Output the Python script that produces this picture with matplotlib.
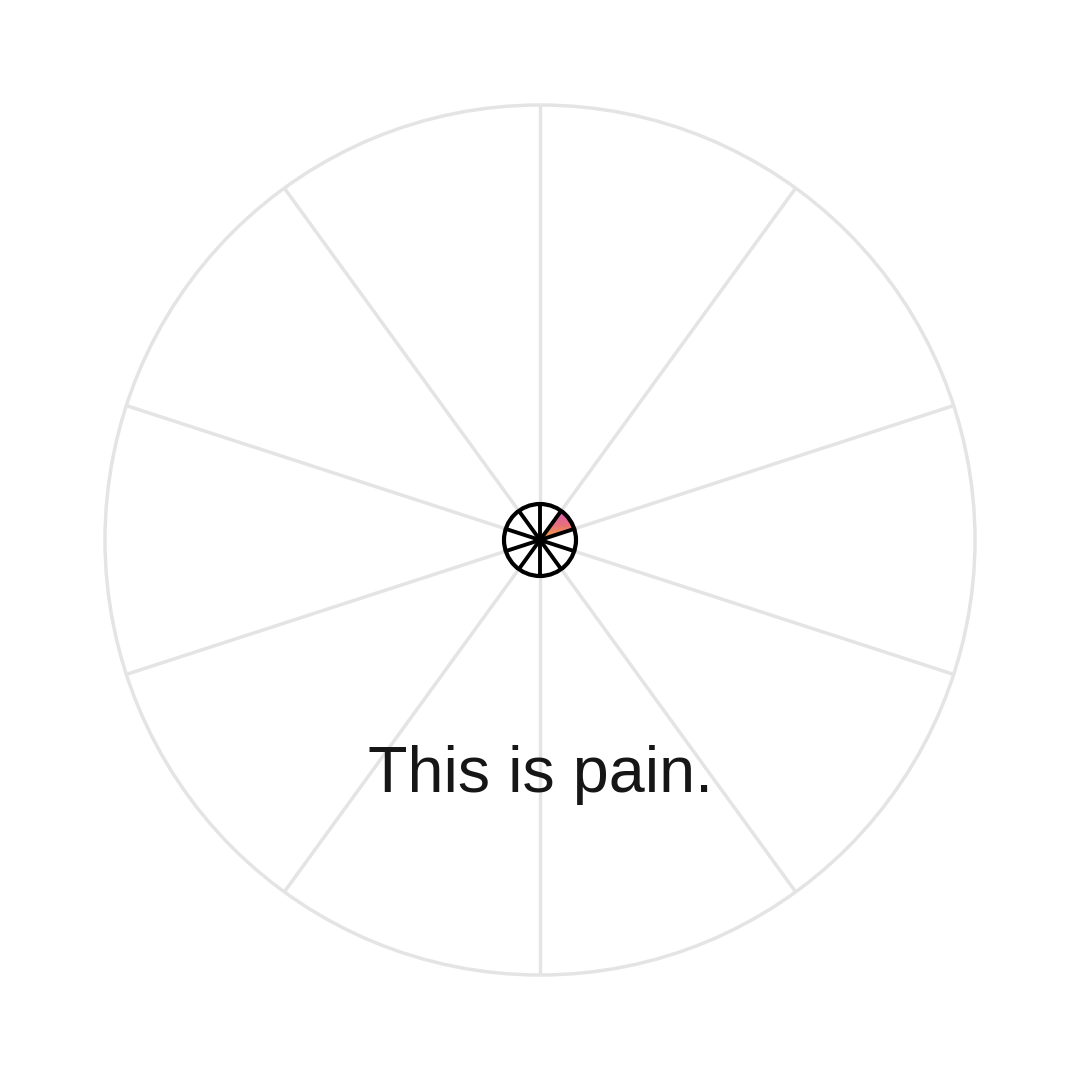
import numpy as np
import matplotlib
matplotlib.use("Agg")
import matplotlib.pyplot as plt
from matplotlib.patches import Circle, Wedge
from matplotlib.colors import LinearSegmentedColormap

# Data
n_segments = 10
segment_values = [0, 1, 0, 0, 0, 0, 0, 0, 0, 0]  # segments counted clockwise from top
title_text = "This is pain."

big_r = 1.0
small_r = 36 / 435

fig = plt.figure(figsize=(10.8, 10.8), dpi=100)
ax = fig.add_axes([0, 0, 1, 1])
lim = 540 / 435
ax.set_xlim(-lim, lim)
ax.set_ylim(-lim, lim)
ax.set_aspect("equal")
ax.axis("off")

grid_col = "#e4e4e4"
angles = 90 - np.arange(n_segments) * 360 / n_segments
# big outer circle and spokes
ax.add_patch(Circle((0, 0), big_r, fill=False, ec=grid_col, lw=2.5, zorder=1))
for a in angles:
    t = np.deg2rad(a)
    ax.plot([0, big_r * np.cos(t)], [0, big_r * np.sin(t)], color=grid_col, lw=2.5, zorder=1,
            solid_capstyle="butt")

# small wheel: white background
ax.add_patch(Circle((0, 0), small_r, fc="white", ec="none", zorder=2))

cmap = LinearSegmentedColormap.from_list("g", ["#f7a83c", "#e8707a", "#d45cbc"])
for i, v in enumerate(segment_values):
    if v > 0:
        th2 = angles[i]
        th1 = angles[i] - 360 / n_segments
        w = Wedge((0, 0), small_r * v, th1, th2, fc="none", ec="none", zorder=3)
        ax.add_patch(w)
        ys = np.linspace(0, 1, 200)[:, None] * np.ones((1, 20))
        y0 = small_r * v * np.sin(np.deg2rad(min(th1, th2))) * 0
        y1 = small_r * v * np.sin(np.deg2rad(max(th1, th2)))
        im = ax.imshow(ys, extent=[0, small_r * v, y0, y1], origin="lower",
                       cmap=cmap, vmin=0, vmax=1, zorder=3, interpolation="bilinear",
                       aspect="auto")
        im.set_clip_path(w)

for a in angles:
    t = np.deg2rad(a)
    ax.plot([0, small_r * np.cos(t)], [0, small_r * np.sin(t)], color="black", lw=2.8, zorder=4,
            solid_capstyle="butt")
ax.add_patch(Circle((0, 0), small_r, fill=False, ec="black", lw=3.0, zorder=5))

ax.set_xlim(-lim, lim)
ax.set_ylim(-lim, lim)

ax.text(0, -(792 - 540) / 435, title_text, ha="center", va="baseline",
        fontsize=46.5, color="#161616", family=["Liberation Sans", "DejaVu Sans"], zorder=6)

fig.savefig("out.png", dpi=100, facecolor="white")
